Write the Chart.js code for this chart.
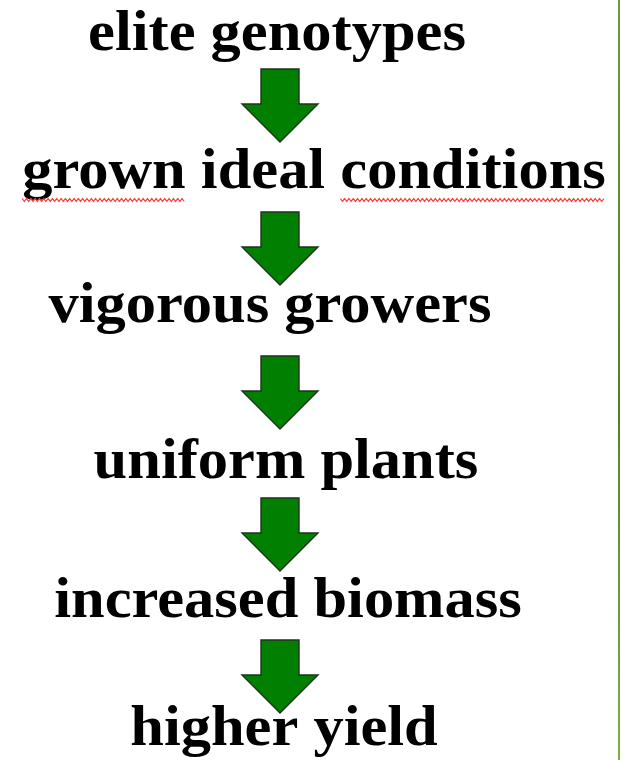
<!DOCTYPE html>
<html>
<head>
<meta charset="utf-8">
<script src="https://cdn.jsdelivr.net/npm/chart.js@4.4.1/dist/chart.umd.min.js"></script>
<style>
  html, body { margin: 0; padding: 0; background: #ffffff; }
  canvas { display: block; }
</style>
</head>
<body>
<canvas id="flow" width="621" height="760"></canvas>
<script>
// steps of the flow, top to bottom
const steps = ["elite genotypes", "grown ideal conditions", "vigorous growers", "uniform plants", "increased biomass", "higher yield"];
// where each step's text sits (centre x, baseline y) on the page layout scale
const stepX = [277, 314, 270, 286, 288, 284];
const stepY = [50, 188, 322, 478, 617, 745];
// arrows between the steps (centre x, centre y)
const arrowX = [280, 280, 280, 280, 280];
const arrowY = [106, 249, 393, 535, 677];
// words marked by the spell checker
const flagged = ["grown", "conditions"];

const canvas = document.getElementById("flow");
const ctx = canvas.getContext("2d");

// arrow shape used as the point style
const makeArrow = () => {
  const c = document.createElement("canvas");
  c.width = 80;
  c.height = 76;
  const g = c.getContext("2d");
  g.beginPath();
  g.moveTo(21, 1);
  g.lineTo(59, 1);
  g.lineTo(59, 36);
  g.lineTo(78, 36);
  g.lineTo(40, 74);
  g.lineTo(2, 36);
  g.lineTo(21, 36);
  g.closePath();
  g.fillStyle = "#007f00";
  g.fill();
  g.lineWidth = 1.4;
  g.strokeStyle = "#1e331e";
  g.lineJoin = "miter";
  g.stroke();
  return c;
};
const arrowImg = makeArrow();

const textPlugin = {
  id: "stepText",
  afterDatasetsDraw(chart) {
    const c = chart.ctx;
    const meta = chart.getDatasetMeta(0);
    c.save();
    c.font = "bold 56px 'Liberation Serif', 'Times New Roman', serif";
    c.fillStyle = "#000000";
    c.textAlign = "left";
    c.textBaseline = "alphabetic";
    meta.data.forEach((pt, i) => {
      const label = steps[i];
      const w = c.measureText(label).width;
      c.save();
      c.translate(pt.x, pt.y);
      c.scale(1.08, 1);
      c.fillText(label, -w / 2, 0);
      // red squiggle under flagged words
      flagged.forEach((word) => {
        const idx = label.indexOf(word);
        if (idx < 0) return;
        const x0 = -w / 2 + c.measureText(label.slice(0, idx)).width;
        const x1 = x0 + c.measureText(word).width;
        c.beginPath();
        let up = true;
        for (let x = x0; x <= x1; x += 2) {
          const y = up ? 10.5 : 13.5;
          if (x === x0) c.moveTo(x, y); else c.lineTo(x, y);
          up = !up;
        }
        c.strokeStyle = "#ff3b3b";
        c.lineWidth = 1.1;
        c.stroke();
      });
      c.restore();
    });
    c.restore();
  },
  afterDraw(chart) {
    // green rule along the right edge
    const c = chart.ctx;
    const g = c.createLinearGradient(0, 0, 0, chart.height);
    g.addColorStop(0, "#6a9a44");
    g.addColorStop(0.55, "#4f7f2e");
    g.addColorStop(0.6, "#5a8a35");
    g.addColorStop(1, "#7cb044");
    c.save();
    c.fillStyle = g;
    c.fillRect(chart.width - 3, 0, 2, chart.height);
    c.restore();
  }
};

new Chart(ctx, {
  type: "scatter",
  data: {
    datasets: [
      {
        label: "steps",
        data: steps.map((s, i) => ({ x: stepX[i], y: stepY[i] })),
        pointRadius: 0,
        pointHoverRadius: 0
      },
      {
        label: "arrows",
        data: arrowY.map((y, i) => ({ x: arrowX[i], y: y })),
        pointStyle: arrowImg,
        pointRadius: 38
      }
    ]
  },
  options: {
    responsive: false,
    animation: false,
    events: [],
    layout: { padding: 0, autoPadding: false },
    plugins: { legend: { display: false }, tooltip: { enabled: false } },
    scales: {
      x: { type: "linear", min: 0, max: 621, display: false },
      y: { type: "linear", min: 0, max: 760, reverse: true, display: false }
    }
  },
  plugins: [textPlugin]
});
</script>
</body>
</html>
